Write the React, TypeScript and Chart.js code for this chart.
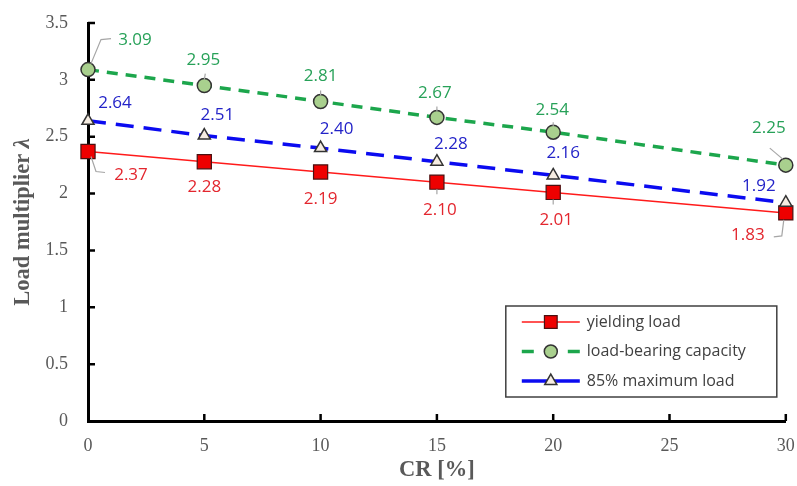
import { useEffect, useRef } from "react";
import { Chart, registerables } from "chart.js";
import { drawPoint } from "chart.js/helpers";
Chart.register(...registerables);

// CR [%] on the x axis
const crValues = [0, 5, 10, 15, 20, 30];
const yieldingLoad = [2.37, 2.28, 2.19, 2.1, 2.01, 1.83];
const bearingCapacity = [3.09, 2.95, 2.81, 2.67, 2.54, 2.25];
const maxLoad85 = [2.64, 2.51, 2.4, 2.28, 2.16, 1.92];
const seriesNames = ["yielding load", "load-bearing capacity", "85% maximum load"];

// label placement relative to each point (dx, dy) and optional leader lines
const redLabelOffsets = [[43, 24], [0, 25], [0, 27], [3, 28], [3, 28], [-38, 22]];
const greenLabelOffsets = [[47, -29], [-1, -25], [0, -25], [-2, -24], [-1, -22], [-17, -37]];
const blueLabelOffsets = [[27, -18], [13, -20], [16, -19], [14, -18], [10, -22], [-27, -17]];
const redLeaders = [[[3, 5], [8, 20], [17, 21]], null, null, [[0, 7], [0, 12]], [[0, 7], [0, 12]], [[-2, 7], [-4, 23], [-12, 24]]];
const greenLeaders = [[[3, -6], [13, -30], [23, -31]], [[0, -6], [1, -12]], [[0, -6], [0, -11]], [[0, -6], [0, -11]], [[0, -6], [0, -10]], [[-3, -6], [-16, -17]]];
const blueLeaders = [null, null, null, null, null, null];

const GRAY = "#595959";
const TITLE_FONT = "bold 22.5px 'Liberation Serif'";

const dataLabels = {
  id: "dataLabels",
  afterDatasetsDraw(chart: any) {
    const ctx = chart.ctx;
    chart.data.datasets.forEach((ds: any, i: number) => {
      const meta = chart.getDatasetMeta(i);
      meta.data.forEach((pt: any, j: number) => {
        const leader = ds.leaders[j];
        if (leader) {
          ctx.save();
          ctx.strokeStyle = "#a6a6a6";
          ctx.lineWidth = 1.2;
          ctx.beginPath();
          leader.forEach(([lx, ly]: number[], k: number) => {
            if (k === 0) ctx.moveTo(pt.x + lx, pt.y + ly);
            else ctx.lineTo(pt.x + lx, pt.y + ly);
          });
          ctx.stroke();
          ctx.restore();
        }
        const [dx, dy] = ds.labelOffsets[j];
        ctx.save();
        ctx.font = "17px 'Open Sans'";
        ctx.fillStyle = ds.labelColor;
        ctx.textAlign = "center";
        ctx.textBaseline = "middle";
        ctx.fillText(ds.data[j].y.toFixed(2), pt.x + dx, pt.y + dy);
        ctx.restore();
      });
    });
  },
};

const inwardTicks = {
  id: "inwardTicks",
  beforeDatasetsDraw(chart: any) {
    const { ctx, chartArea, scales } = chart;
    ctx.save();
    ctx.strokeStyle = "#000";
    ctx.lineWidth = 2.5;
    ctx.beginPath();
    scales.x.ticks.forEach((t: any) => {
      if (t.value === 0) return;
      const px = scales.x.getPixelForValue(t.value);
      ctx.moveTo(px, chartArea.bottom);
      ctx.lineTo(px, chartArea.bottom - 7);
    });
    scales.y.ticks.forEach((t: any) => {
      if (t.value === 0) return;
      const py = scales.y.getPixelForValue(t.value);
      ctx.moveTo(chartArea.left, py);
      ctx.lineTo(chartArea.left + 7, py);
    });
    ctx.stroke();

    // y axis title with italic lambda
    ctx.fillStyle = GRAY;
    ctx.translate(23, (chartArea.top + chartArea.bottom) / 2);
    ctx.rotate(-Math.PI / 2);
    ctx.textBaseline = "middle";
    ctx.font = TITLE_FONT;
    const main = "Load multiplier ";
    const w1 = ctx.measureText(main).width;
    ctx.font = "italic " + TITLE_FONT;
    const w2 = ctx.measureText("λ").width;
    const start = -(w1 + w2) / 2;
    ctx.font = TITLE_FONT;
    ctx.textAlign = "left";
    ctx.fillText(main, start, 0);
    ctx.font = "italic " + TITLE_FONT;
    ctx.fillText("λ", start + w1, 0);
    ctx.restore();
  },
};

const boxLegend = {
  id: "boxLegend",
  afterDraw(chart: any) {
    const { ctx, chartArea } = chart;
    const left = chartArea.right - 280;
    const top = chartArea.bottom - 115;
    ctx.save();
    ctx.fillStyle = "#fff";
    ctx.fillRect(left, top, 271, 91);
    ctx.strokeStyle = "#404040";
    ctx.lineWidth = 1.5;
    ctx.strokeRect(left, top, 271, 91);
    chart.data.datasets.forEach((ds: any, i: number) => {
      const y = top + 16 + i * 29.5;
      const x0 = left + 16;
      const x1 = left + 74;
      const cx = (x0 + x1) / 2;
      ctx.save();
      ctx.strokeStyle = ds.borderColor;
      ctx.lineWidth = ds.borderWidth;
      ctx.setLineDash(ds.legendDash);
      ctx.beginPath();
      ctx.moveTo(x0, y);
      ctx.lineTo(x1, y);
      ctx.stroke();
      ctx.restore();
      ctx.fillStyle = ds.pointBackgroundColor;
      ctx.strokeStyle = ds.pointBorderColor;
      ctx.lineWidth = ds.pointBorderWidth;
      drawPoint(ctx, { pointStyle: ds.pointStyle, radius: ds.legendRadius, borderWidth: ds.pointBorderWidth, rotation: 0 } as any, cx, y);
      ctx.fillStyle = "#404040";
      ctx.font = "16px 'Open Sans'";
      ctx.textBaseline = "middle";
      ctx.textAlign = "left";
      ctx.fillText(seriesNames[i], left + 81, y);
    });
    ctx.restore();
  },
};

const App = () => {
  const canvasRef = useRef<HTMLCanvasElement | null>(null);

  useEffect(() => {
    document.body.style.margin = "0";
    if (!canvasRef.current) return;
    const toPoints = (vals: number[]) => crValues.map((x, i) => ({ x, y: vals[i] }));

    const chart = new Chart(canvasRef.current, {
      type: "line",
      data: {
        datasets: [
          {
            label: seriesNames[0],
            data: toPoints(yieldingLoad),
            borderColor: "#ff1a1a",
            borderWidth: 1.5,
            pointStyle: "rect",
            pointRadius: 10,
            pointBackgroundColor: "#ee0000",
            pointBorderColor: "#4a1010",
            pointBorderWidth: 1.2,
            clip: false,
            order: 2,
            labelColor: "#e3262e",
            labelOffsets: redLabelOffsets,
            leaders: redLeaders,
            legendDash: [],
            legendRadius: 9,
          },
          {
            label: seriesNames[1],
            data: toPoints(bearingCapacity),
            borderColor: "#1ca64c",
            borderWidth: 3.5,
            borderDash: [11, 8],
            pointStyle: "circle",
            pointRadius: 7,
            pointBackgroundColor: "#a9d08e",
            pointBorderColor: "#333",
            pointBorderWidth: 1.5,
            clip: false,
            order: 1,
            labelColor: "#27a158",
            labelOffsets: greenLabelOffsets,
            leaders: greenLeaders,
            legendDash: [12, 34],
            legendRadius: 6.5,
          },
          {
            label: seriesNames[2],
            data: toPoints(maxLoad85),
            borderColor: "#0b0bf0",
            borderWidth: 3.5,
            borderDash: [18, 10],
            pointStyle: "triangle",
            pointRadius: 7,
            pointBackgroundColor: "#f6ede2",
            pointBorderColor: "#333",
            pointBorderWidth: 1.5,
            clip: false,
            order: 0,
            labelColor: "#2323c8",
            labelOffsets: blueLabelOffsets,
            leaders: blueLeaders,
            legendDash: [],
            legendRadius: 7,
          },
        ] as any,
      },
      options: {
        responsive: false,
        animation: false,
        layout: { padding: { top: 23, right: 11, left: 0, bottom: 0 } },
        plugins: {
          legend: { display: false },
          tooltip: { enabled: false },
        },
        scales: {
          x: {
            type: "linear",
            min: 0,
            max: 30,
            afterFit: (s: any) => {
              s.height = 65;
              s.paddingLeft = 0;
              s.paddingRight = 0;
            },
            grid: { display: false, drawTicks: false },
            border: { display: true, color: "#000", width: 3 },
            ticks: {
              stepSize: 5,
              padding: 14,
              color: GRAY,
              font: { family: "'Liberation Serif'", size: 18 },
              maxRotation: 0,
            },
            title: {
              display: true,
              text: "CR [%]",
              color: GRAY,
              font: { family: "'Liberation Serif'", size: 22.5, weight: "bold" },
              padding: { top: 0, bottom: 2 },
            },
          },
          y: {
            min: 0,
            max: 3.5,
            afterFit: (s: any) => {
              s.width = 88;
              s.paddingTop = 0;
              s.paddingBottom = 0;
            },
            grid: { display: false, drawTicks: false },
            border: { display: true, color: "#000", width: 3 },
            ticks: {
              stepSize: 0.5,
              padding: 20,
              color: GRAY,
              font: { family: "'Liberation Serif'", size: 18 },
              callback: (v: any) => String(v),
            },
          },
        },
      },
      plugins: [inwardTicks, dataLabels, boxLegend],
    });

    return () => {
      chart.destroy();
    };
  }, []);

  return <canvas ref={canvasRef} width={797} height={486} />;
};

export default App;
